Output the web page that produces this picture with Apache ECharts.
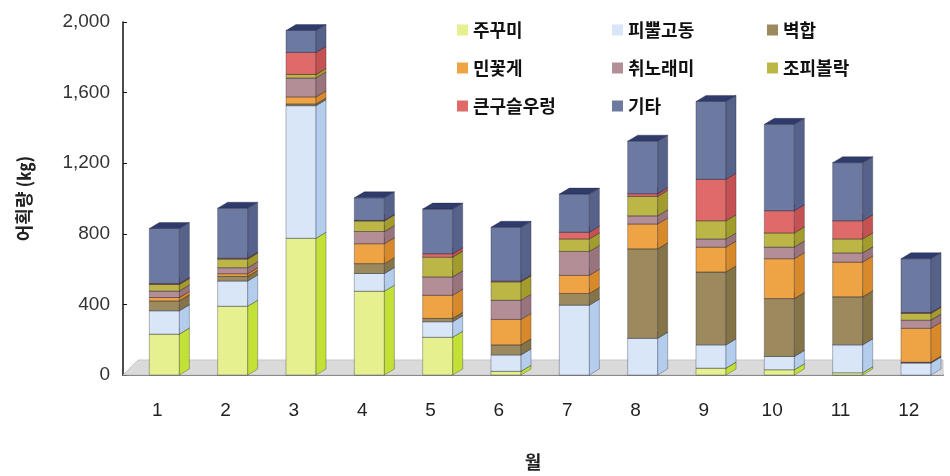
<!DOCTYPE html>
<html><head><meta charset="utf-8">
<script src="https://cdn.jsdelivr.net/npm/echarts@6/dist/echarts.min.js"></script>
<style>html,body{margin:0;padding:0;background:#fff}#c{width:950px;height:476px}</style>
</head><body><div id="c"></div>
<script>
const months = ['1','2','3','4','5','6','7','8','9','10','11','12'];
const yTicks = [0, 400, 800, 1200, 1600, 2000];
const seriesNames = ['주꾸미','피뿔고동','벽합','민꽃게','취노래미','조피볼락','큰구슬우렁','기타'];
const jukkumi    = [232, 390, 775, 475, 214,  21,   0,   0,  39,  30,  13,   0];
const pipul      = [132, 143, 751, 100,  88,  93, 396, 208, 132,  75, 158,  68];
const byeokhap   = [ 56,  26,  10,  56,  19,  57,  66, 507, 413, 328, 272,   5];
const minkkotge  = [ 19,  15,  40, 113, 131, 144, 103, 141, 141, 226, 197, 192];
const chwinorae  = [ 37,  34, 107,  69, 104, 109, 135,  46,  46,  66,  52,  46];
const jopi       = [ 37,  49,  20,  60, 112, 104,  71, 110, 103,  80,  79,  38];
const keunguseul = [  5,   5, 125,   3,  19,   5,  38,  15, 235, 126, 103,   5];
const gita       = [312, 283, 124, 128, 253, 304, 216, 298, 441, 489, 329, 305];
const seriesValues = [jukkumi, pipul, byeokhap, minkkotge, chwinorae, jopi, keunguseul, gita];

const style = {
  front: ['#e6f08e','#d8e6f8','#9c8a5e','#eea445','#b48e96','#bcb646','#de6a6a','#6c79a0'],
  side:  ['#c2e036','#b4cdec','#857448','#d88a2a','#9a747c','#a29c2c','#c45252','#56628a'],
  top:   ['#aacb2a','#9db8da','#6d5e38','#c07520','#7e5e66','#8a8420','#a84040','#2e3b6b']
};
const FONT = '"Liberation Sans", Arial, sans-serif';
const KFONT = '"Noto Sans CJK KR", sans-serif';

const cum = new Array(months.length).fill(0);
const series = [];
series.push({
  type: 'custom', name: 'floor', silent: true, z: 1,
  data: [[0, 0]],
  renderItem: function (params, api) {
    const cs = params.coordSys;
    const yb = cs.y + cs.height, yt = yb - 15;
    return { type: 'polygon', shape: { points: [[cs.x, yb], [cs.x + 15, yt], [cs.x + cs.width, yt], [cs.x + cs.width, yb]] },
      style: { fill: '#dadada', stroke: '#c8c8c8', lineWidth: 1 } };
  }
});
seriesValues.forEach(function (vals, k) {
  const data = vals.map(function (v, i) { const b = cum[i]; cum[i] += v; return [i, b, b + v]; });
  series.push({
    type: 'custom', name: seriesNames[k], z: 2,
    itemStyle: { color: style.front[k] },
    data: data,
    renderItem: function (params, api) {
      const i = api.value(0), b = api.value(1), t = api.value(2);
      if (t - b <= 0) return null;
      const p0 = api.coord([i, b]), p1 = api.coord([i, t]);
      const bw = api.size([1, 0])[0];
      const L = p0[0] - bw * 0.115, W = bw * 0.44, dx = 10, dy = 6;
      const R = L + W;
      const st = 'rgba(30,30,50,0.45)';
      return { type: 'group', children: [
        { type: 'rect', shape: { x: L, y: p1[1], width: W, height: p0[1] - p1[1] },
          style: { fill: style.front[k], stroke: st, lineWidth: 0.7 } },
        { type: 'polygon', shape: { points: [[R, p1[1]], [R + dx, p1[1] - dy], [R + dx, p0[1] - dy], [R, p0[1]]] },
          style: { fill: style.side[k], stroke: st, lineWidth: 0.7 } },
        { type: 'polygon', shape: { points: [[L, p1[1]], [L + dx, p1[1] - dy], [R + dx, p1[1] - dy], [R, p1[1]]] },
          style: { fill: style.top[k], stroke: st, lineWidth: 0.7 } }
      ]};
    }
  });
});

const legendBase = {
  orient: 'vertical', icon: 'rect', itemWidth: 11, itemHeight: 11, itemGap: 20,
  top: 16, textStyle: { fontFamily: KFONT, fontSize: 18, fontWeight: 'bold', color: '#111' }, selectedMode: false
};
const chart = echarts.init(document.getElementById('c'), null, { renderer: 'canvas' });
chart.setOption({
  animation: false,
  backgroundColor: '#fff',
  grid: { left: 123, right: 7, top: 22, bottom: 99 },
  legend: [
    Object.assign({}, legendBase, { left: 452, data: ['주꾸미','민꽃게','큰구슬우렁'] }),
    Object.assign({}, legendBase, { left: 607, data: ['피뿔고동','취노래미','기타'] }),
    Object.assign({}, legendBase, { left: 762, data: ['벽합','조피볼락'] })
  ],
  xAxis: {
    type: 'category', data: months, boundaryGap: true,
    name: '월', nameLocation: 'middle', nameGap: 78,
    nameTextStyle: { fontFamily: KFONT, fontSize: 18, fontWeight: 'bold', color: '#222' },
    axisLine: { lineStyle: { color: '#111', width: 1.5 } },
    axisTick: { inside: true, length: 5, lineStyle: { color: '#111' } },
    axisLabel: { margin: 26, fontFamily: FONT, fontSize: 19, color: '#222' }
  },
  yAxis: {
    type: 'value', min: 0, max: 2000, interval: 400,
    name: '어획량 (㎏)', nameLocation: 'middle', nameGap: 90, nameRotate: 90,
    nameTextStyle: { fontFamily: KFONT, fontSize: 18, fontWeight: 'bold', color: '#222' },
    axisLine: { show: true, lineStyle: { color: '#111', width: 1.5 } },
    axisTick: { show: true, inside: true, length: 4, lineStyle: { color: '#111' } },
    splitLine: { show: false },
    axisLabel: { margin: 13, fontFamily: FONT, fontSize: 19, color: '#333',
      formatter: function (v) { return yTicks.indexOf(v) >= 0 ? v.toLocaleString('en-US') : ''; } }
  },
  series: series
});
</script></body></html>
